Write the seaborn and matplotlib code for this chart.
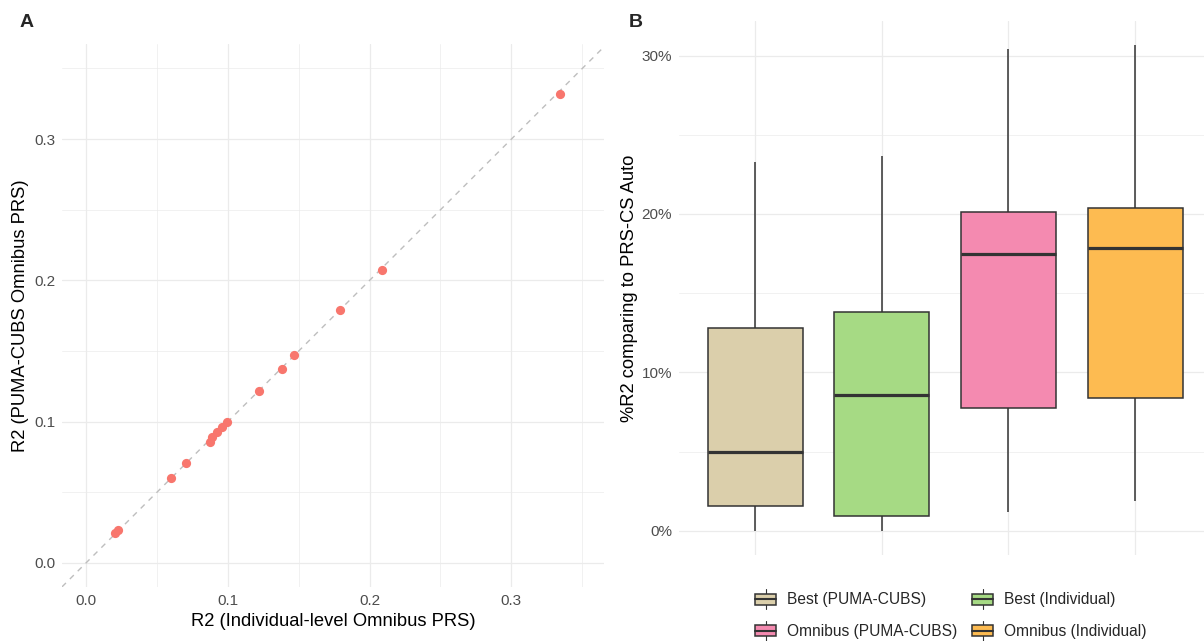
import numpy as np
import pandas as pd
import matplotlib
matplotlib.use("Agg")
import matplotlib.pyplot as plt
import seaborn as sns
from matplotlib.ticker import FuncFormatter
from matplotlib.legend_handler import HandlerBase
from matplotlib.patches import Rectangle, Patch
from matplotlib.lines import Line2D

# ---------------- data ----------------
# Panel A: R2 of omnibus PRS, individual-level vs PUMA-CUBS
r2_individual = [0.334, 0.2085, 0.179, 0.147, 0.138, 0.122, 0.0992, 0.0958,
                 0.0922, 0.0886, 0.0872, 0.0705, 0.0597, 0.0227, 0.0205]
r2_puma_cubs = [0.332, 0.2077, 0.179, 0.147, 0.137, 0.122, 0.0999, 0.0964,
                0.0928, 0.0893, 0.0857, 0.0710, 0.0600, 0.0232, 0.0209]

# Panel B: relative R2 gain vs PRS-CS auto (fraction)
methods = ["Best (PUMA-CUBS)", "Best (Individual)",
           "Omnibus (PUMA-CUBS)", "Omnibus (Individual)"]
gain_best_puma = [0.0, 0.0156, 0.050, 0.1277, 0.2327]
gain_best_indiv = [0.0, 0.0094, 0.086, 0.138, 0.2366]
gain_omni_puma = [0.012, 0.0772, 0.1745, 0.2014, 0.3044]
gain_omni_indiv = [0.0187, 0.0839, 0.1784, 0.204, 0.3067]

colors = ["#DBCFAB", "#A6DA84", "#F48AB0", "#FDBB51"]

# ---------------- style ----------------
sns.set_style("white")
plt.rcParams["font.family"] = ["Liberation Sans", "DejaVu Sans"]

W, H = 1204, 641
fig = plt.figure(figsize=(W / 100, H / 100), dpi=100)

EDGE = "#333333"
GRID = "#EBEBEB"
TICKC = "#4D4D4D"
TITLE_FS = 13.2
TICK_FS = 11


def px_axes(l, t, r, b):
    return fig.add_axes([l / W, 1 - b / H, (r - l) / W, (b - t) / H])


# ---------------- Panel A ----------------
axA = px_axes(62, 44, 604, 587)
axA.axline((0, 0), slope=1, color="#BEBEBE", ls=(0, (4, 4)), lw=1.0, zorder=1)
sns.scatterplot(x=r2_individual, y=r2_puma_cubs, color="#F8766D", s=44,
                linewidth=0, ax=axA, zorder=3)
axA.set_xlim(-0.0169, 0.3653)
axA.set_ylim(-0.017, 0.3673)
ticks = [0.0, 0.1, 0.2, 0.3]
axA.set_xticks(ticks)
axA.set_yticks(ticks)
axA.set_xticks([0.05, 0.15, 0.25, 0.35], minor=True)
axA.set_yticks([0.05, 0.15, 0.25, 0.35], minor=True)
axA.set_xticklabels(["0.0", "0.1", "0.2", "0.3"])
axA.set_yticklabels(["0.0", "0.1", "0.2", "0.3"])
axA.grid(which="major", color=GRID, lw=0.9)
axA.grid(which="minor", color=GRID, lw=0.5)
axA.set_axisbelow(True)
axA.set_xlabel("R2 (Individual-level Omnibus PRS)", fontsize=TITLE_FS, color="black")
axA.set_ylabel("R2 (PUMA-CUBS Omnibus PRS)", fontsize=TITLE_FS, color="black")
axA.xaxis.set_label_coords(0.5, (587 - 621) / 543)
axA.xaxis.label.set_va("center")
axA.yaxis.set_label_coords((21 - 62) / 542, 0.5)
axA.yaxis.label.set_va("center")

# ---------------- Panel B ----------------
axB = px_axes(679, 20.7, 1211, 555)
df = pd.DataFrame({
    "method": np.repeat(methods, 5),
    "gain": np.concatenate([gain_best_puma, gain_best_indiv,
                            gain_omni_puma, gain_omni_indiv]),
})
sns.boxplot(data=df, x="method", y="gain", hue="method", order=methods,
            hue_order=methods, palette=dict(zip(methods, colors)),
            saturation=1, width=0.75, whis=10, showfliers=False,
            showcaps=False, linecolor=EDGE, linewidth=1.1,
            medianprops=dict(linewidth=2.3, color=EDGE),
            legend=False, ax=axB, zorder=2)
axB.set_xlim(-0.6, 3.6)
axB.set_ylim(-0.0153, 0.322)
axB.set_yticks([0.0, 0.1, 0.2, 0.3])
axB.set_yticks([0.05, 0.15, 0.25], minor=True)
axB.yaxis.set_major_formatter(FuncFormatter(lambda v, p: f"{v * 100:.0f}%"))
axB.set_xticks(range(4))
axB.set_xticklabels([])
axB.grid(which="major", color=GRID, lw=0.9)
axB.grid(which="minor", axis="y", color=GRID, lw=0.5)
axB.set_axisbelow(True)
axB.set_xlabel("")
axB.set_ylabel("%R2 comparing to PRS-CS Auto", fontsize=TITLE_FS, color="black")
axB.yaxis.set_label_coords((630 - 679) / 532, 0.5)
axB.yaxis.label.set_va("center")

for ax in (axA, axB):
    for s in ax.spines.values():
        s.set_visible(False)
    ax.tick_params(which="both", length=0, labelsize=TICK_FS,
                   labelcolor=TICKC, pad=5)


# ---------------- Legend ----------------
class BoxKey(HandlerBase):
    def create_artists(self, legend, orig_handle, xdescent, ydescent,
                       width, height, fontsize, trans):
        fc = orig_handle.get_facecolor()
        x0, y0 = -xdescent, -ydescent
        cx, cy = x0 + width / 2, y0 + height / 2
        bw, bh = width * 0.9, height * 0.55
        wh = Line2D([cx, cx], [y0, y0 + height], color=EDGE, lw=0.8,
                    transform=trans)
        rect = Rectangle((cx - bw / 2, cy - bh / 2), bw, bh, facecolor=fc,
                         edgecolor=EDGE, lw=1.1, transform=trans)
        med = Line2D([cx - bw / 2, cx + bw / 2], [cy, cy], color=EDGE, lw=1.5,
                     transform=trans)
        return [wh, rect, med]


handles = [Patch(facecolor=c, label=m) for m, c in zip(methods, colors)]
order = [0, 2, 1, 3]
leg = fig.legend([handles[i] for i in order], [methods[i] for i in order],
                 ncol=2, loc="center", bbox_to_anchor=(950 / W, 1 - 615 / H),
                 frameon=False, fontsize=11.2, handler_map={Patch: BoxKey()},
                 handlelength=1.5, handleheight=1.6, labelspacing=0.75,
                 columnspacing=0.9, handletextpad=0.6)

# ---------------- panel tags ----------------
fig.text(20 / W, 1 - 27.3 / H, "A", fontsize=14, fontweight="bold",
         ha="left", va="baseline")
fig.text(629 / W, 1 - 26.6 / H, "B", fontsize=14, fontweight="bold",
         ha="left", va="baseline")

fig.savefig("out.png", dpi=100, facecolor="white")
